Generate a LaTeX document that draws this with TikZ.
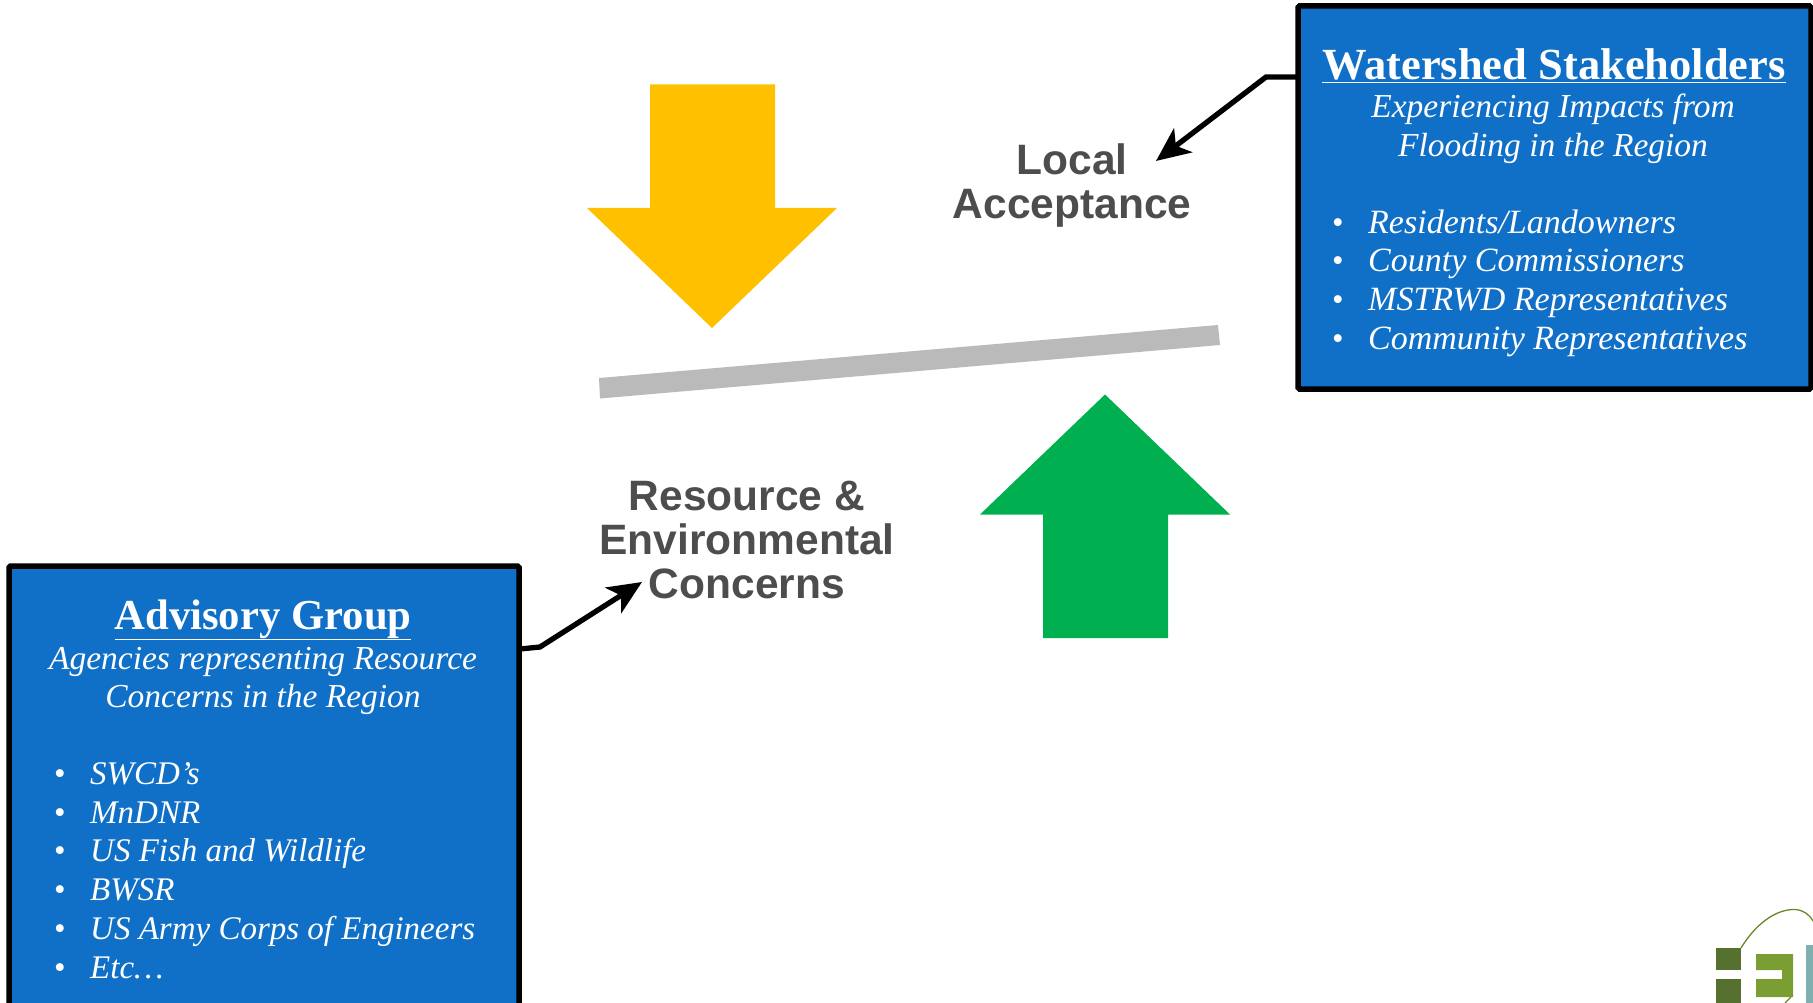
\documentclass[tikz,border=0pt]{standalone}
\usepackage{fontspec}
\usetikzlibrary{arrows.meta}
\setmainfont{Liberation Serif}
\newfontfamily\armfont{Liberation Sans}
\definecolor{boxblue}{HTML}{106FC6}
\definecolor{txtgray}{HTML}{4D4D4D}
\definecolor{baryel}{HTML}{FFC000}
\definecolor{bargrn}{HTML}{00B050}
\definecolor{bargry}{HTML}{BABABA}
\definecolor{logod}{HTML}{55702F}
\definecolor{logom}{HTML}{7A9E32}
\definecolor{logot}{HTML}{7FAFAE}
\tikzset{
  panel/.style={draw=black,fill=boxblue,line width=5.5pt,rounded corners=1.5pt,inner sep=0pt},
  paneltitle/.style={text=white,anchor=base,inner sep=0pt,font=\fontsize{44.5}{48}\selectfont\bfseries},
  paneltitleb/.style={text=white,anchor=base,inner sep=0pt,font=\fontsize{42.7}{48}\selectfont\bfseries},
  panelsub/.style={text=white,anchor=base,inner sep=0pt,font=\fontsize{33.5}{38}\selectfont\itshape},
  panelitem/.style={text=white,anchor=base west,inner sep=0pt,font=\fontsize{34}{38}\selectfont\itshape},
  panelitemb/.style={text=white,anchor=base west,inner sep=0pt,font=\fontsize{33}{38}\selectfont\itshape},
  panelbullet/.style={text=white,anchor=base,inner sep=0pt,font=\fontsize{33}{38}\selectfont},
  balance/.style={text=txtgray,align=center,inner sep=0pt,font=\fontsize{42.5}{44}\selectfont\armfont\bfseries},
  link/.style={draw=black,line width=5.3pt,line join=miter,-{Stealth[length=34pt,width=30pt,inset=9pt]}},
}
\begin{document}
\begin{tikzpicture}[x=1pt,y=-1pt]
\useasboundingbox (0,0) rectangle (1813,1003);
\clip (0,0) rectangle (1813,1003);
% big arrows and beam
\fill[baryel] (650,84.5) -- (775,84.5) -- (775,208) -- (837,208) -- (712,328) -- (587,208) -- (650,208) -- cycle;
\fill[bargrn] (1105,394.5) -- (1230,514.5) -- (1168,514.5) -- (1168,638) -- (1043,638) -- (1043,514.5) -- (980,514.5) -- cycle;
\fill[bargry] (599,378) -- (1218,325) -- (1220,345) -- (600,398.5) -- cycle;
% panels
\node[panel,minimum width=513pt,minimum height=383pt] (ws) at (1554.5,197.5) {};
\node[panel,minimum width=510pt,minimum height=470pt] (ag) at (264,801) {};
% labels
\node[balance] (la) at (1072,186) {Local\\Acceptance};
\node[balance] (re) at (747,540) {Resource \&\\Environmental\\Concerns};
% watershed text
\node[paneltitle] (wst) at (1554,80) {\underline{Watershed Stakeholders}};
\node[panelsub] (ws1) at (1553,118) {Experiencing Impacts from};
\node[panelsub] (ws2) at (1553,157) {Flooding in the Region};
\foreach \n/\y/\t in {a/234/Residents\slash Landowners,b/272/County Commissioners,c/310/MSTRWD Representatives,d/349/Community Representatives}{
  \node[panelbullet] (wsb\n) at (1338,\y) {•};
  \node[panelitem] (wsi\n) at (1368,\y) {\t};
}
% advisory text
\node[paneltitleb] (agt) at (263,629) {\underline{Advisory Group}};
\node[panelsub] (ag1) at (263,669) {Agencies representing Resource};
\node[panelsub] (ag2) at (263,707) {Concerns in the Region};
\foreach \n/\y/\t in {a/784/SWCD’s,b/823/MnDNR,c/861/US Fish and Wildlife,d/900/BWSR,e/939/US Army Corps of Engineers,f/978/Etc…}{
  \node[panelbullet] (agb\n) at (60,\y) {•};
  \node[panelitemb] (agi\n) at (90,\y) {\t};
}
% connectors
\coordinate (wsin) at (1298,77);
\coordinate (wsbend) at (1266,77);
\coordinate (wsend) at (1156,161);
\coordinate (agin) at (520,649);
\coordinate (agbend) at (540,647);
\coordinate (agend) at (642,582);
\draw[link] (wsin) -- (wsbend) -- (wsend);
\draw[link] (agin) -- (agbend) -- (agend);
% logo
\fill[logod] (1716,948) rectangle (1741,970);
\fill[logod] (1716,979) rectangle (1741,1003);
\fill[logom] (1756,954) -- (1793,954) -- (1793,997) -- (1756,997) -- (1756,979) -- (1782,979) -- (1782,970) -- (1756,970) -- cycle;
\fill[logot] (1806,945) rectangle (1813,1003);
\draw[logom!85!black,line width=1.3pt] (1741,948) .. controls (1755,925) and (1775,909) .. (1795,909.5) .. controls (1803,910) and (1809,914) .. (1813,921);
\draw[logom!85!black,line width=1.3pt] (1791,997) -- (1785,1003);
\end{tikzpicture}
\end{document}
